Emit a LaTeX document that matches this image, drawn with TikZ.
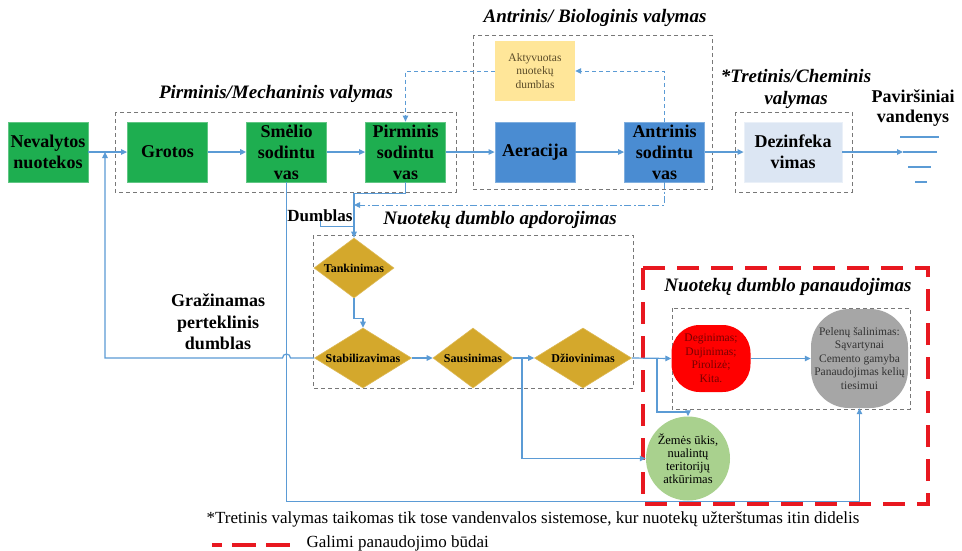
\documentclass[tikz,border=0pt]{standalone}
\usepackage{fontspec}
\setmainfont{Liberation Serif}
\usetikzlibrary{shapes.geometric,arrows.meta}

\definecolor{flow}{HTML}{5B9BD5}
\definecolor{pgreen}{RGB}{30,174,80}
\definecolor{pblue}{RGB}{74,140,210}
\definecolor{lblue}{RGB}{220,230,243}
\definecolor{ayellow}{HTML}{FFE699}
\definecolor{gold}{RGB}{212,168,44}
\definecolor{ashgray}{RGB}{166,166,166}
\definecolor{lgreen}{HTML}{A9D18E}
\definecolor{grpgray}{RGB}{120,120,120}
\definecolor{usered}{RGB}{232,24,32}
\definecolor{aktext}{RGB}{90,75,40}
\definecolor{degtext}{RGB}{120,0,0}

\begin{document}
\begin{tikzpicture}[x=1pt,y=-1pt,
  proc/.style={rectangle, minimum width=80pt, minimum height=60pt, inner sep=0pt,
    align=center, font=\fontsize{18}{21}\selectfont\bfseries},
  gproc/.style={proc, fill=pgreen, draw=pgreen!70!white, line width=0.8pt},
  bproc/.style={proc, fill=pblue, draw=pblue!70!white, line width=0.8pt},
  dia/.style={diamond, aspect=1.6, inner sep=0pt, fill=gold, draw=gold!80!white,
    line width=0.6pt, minimum width=97pt, minimum height=60pt,
    font=\fontsize{12}{14}\selectfont\bfseries},
  flowline/.style={draw=flow, line width=1.2pt},
  arr/.style={flowline, -{Triangle[length=6pt,width=5.5pt]}},
  dashloop/.style={dash pattern=on 4pt off 3pt},
  dashdotloop/.style={dash pattern=on 7pt off 2.5pt on 2pt off 2.5pt},
  grp/.style={draw=grpgray, dash pattern=on 4pt off 3pt, line width=0.9pt},
  reddash/.style={draw=usered, line width=3.6pt, dash pattern=on 22pt off 12pt},
  title/.style={font=\fontsize{19}{22}\selectfont\bfseries\itshape, align=center},
  lbl/.style={font=\fontsize{18}{21}\selectfont\bfseries, align=center},
  small/.style={font=\fontsize{11.5}{13.5}\selectfont, align=center},
  note/.style={font=\fontsize{17}{20}\selectfont}
]
\useasboundingbox (0,0) rectangle (962,550);
\fill[white] (0,0) rectangle (962,550);

% group frames
\draw[grp] (115,112) rectangle (456,192);
\draw[grp] (473,35) rectangle (712,189);
\draw[grp] (735,112) rectangle (852,192);
\draw[grp] (313,235) rectangle (633,388);
\draw[grp] (672,308) rectangle (910,409);
\draw[reddash] (643,268) rectangle (928,504);

% group titles
\node[title] (tprim) at (276,94) {Pirminis/Mechaninis valymas};
\node[title] (tsec) at (595,18) {Antrinis/ Biologinis valymas};
\node[title] (tter) at (796,89) {*Tretinis/Cheminis\\valymas};
\node[lbl, font=\fontsize{18}{20}\selectfont\bfseries] (tsurf) at (913,108) {Paviršiniai\\vandenys};
\node[title] (ttreat) at (500,220) {Nuotekų dumblo apdorojimas};
\node[title] (tuse) at (788,287) {Nuotekų dumblo panaudojimas};

% main treatment line
\node[gproc] (nev) at (48,152) {Nevalytos\\nuotekos};
\node[gproc] (gro) at (167.5,152) {Grotos};
\node[gproc] (sme) at (286.5,152) {Smėlio\\sodintu\\vas};
\node[gproc] (pir) at (405.5,152) {Pirminis\\sodintu\\vas};
\node[bproc] (aer) at (535,152) {Aeracija};
\node[bproc] (ant) at (664.5,152) {Antrinis\\sodintu\\vas};
\node[proc, fill=lblue, draw=lblue!60!white, line width=0.8pt, minimum width=98pt] (dez) at (793,152) {Dezinfeka\\vimas};
\node[rectangle, fill=ayellow, minimum width=80pt, minimum height=60pt, inner sep=0pt,
  small, text=aktext] (akt) at (535,71) {Aktyvuotas\\nuotekų\\dumblas};

% sludge treatment
\node[dia, minimum width=80pt] (tan) at (354,268) {Tankinimas};
\node[dia] (sta) at (363,358) {Stabilizavimas};
\node[dia, minimum width=80pt] (sau) at (473,358) {Sausinimas};
\node[dia] (dzi) at (583,358) {Džiovinimas};

% sludge use
\node[rectangle, rounded corners=28pt, fill=red, minimum width=79pt, minimum height=67pt,
  inner sep=0pt, small, text=degtext] (deg) at (711,358.5) {Deginimas;\\Dujinimas;\\Pirolizė;\\Kita.};
\node[rectangle, rounded corners=38pt, fill=ashgray, minimum width=97pt, minimum height=99pt,
  inner sep=0pt, small, text=black!80] (ash) at (859.5,358.5) {Pelenų šalinimas:\\Sąvartynai\\Cemento gamyba\\Panaudojimas kelių\\tiesimui};
\node[circle, fill=lgreen, minimum size=84pt, inner sep=0pt,
  font=\fontsize{12.5}{13}\selectfont, align=center] (agr) at (688,458.5) {Žemės ūkis,\\nualintų\\teritorijų\\atkūrimas};

% side labels
\node[lbl, font=\fontsize{17}{20}\selectfont\bfseries] (ldum) at (320,216) {Dumblas};
\node[lbl, font=\fontsize{18}{21.5}\selectfont\bfseries] (lret) at (218,322) {Gražinamas\\perteklinis\\dumblas};

% water flow
\draw[arr] (nev) -- (gro);
\draw[arr, line width=2.4pt] (gro) -- (sme);
\draw[arr] (sme) -- (pir);
\draw[arr] (pir) -- (aer);
\draw[arr] (aer) -- (ant);
\draw[arr] (ant) -- (dez);
\coordinate (wtip) at (903,152);
\coordinate (wend) at (937,152);
\draw[arr] (dez) -- (wtip);
\draw[flowline] (wtip) -- (wend);
\draw[flowline] (900,137) -- (939,137);
\draw[flowline] (908,167) -- (931,167);
\draw[flowline] (915,182) -- (927,182);

% activated sludge recirculation
\draw[arr, dashloop, line width=0.9pt] (ant.north) |- (akt.east);
\draw[arr, dashloop, line width=0.9pt] (akt.west) -| (pir.north);
\coordinate (dj) at (354,205);
\draw[arr, dashdotloop, line width=0.9pt] (ant.south) |- (dj);

% sludge line
\draw[arr] (pir.south) -- ++(0,11) -| (tan.north);
\draw[flowline, line width=0.8pt] (320,221) -- (320,226) -- (354,226);
\draw[arr] (tan.south) -- ++(0,20) -| (sta.north);
\draw[arr] (sta) -- (sau);
\draw[arr] (sau) -- (dzi);
\coordinate (b1) at (522,358);
\draw[arr] (b1) |- (agr.west);
\draw[arr] (dzi.east) -- (deg.west);
\coordinate (b2) at (657,358);
\draw[arr] (b2) -- ++(0,54) -| (agr.north);
\draw[arr] (deg) -- (ash);
\draw[arr] (sme.south) -- ++(0,319) -| (ash.south);

% returned excess sludge
\coordinate (ret) at (105,152);
\draw[arr] (sta.west) -- ([xshift=4pt]sme.south |- sta.west)
  arc[start angle=0, end angle=180, radius=4pt] -| (ret);

% notes
\node[note] (notetxt) at (533,519)
  {*Tretinis valymas taikomas tik tose vandenvalos sistemose, kur nuotekų užterštumas itin didelis};
\coordinate (lg1) at (212,545);
\coordinate (lg2) at (290,545);
\draw[reddash, dash pattern=on 24pt off 10pt, dash phase=14pt] (lg1) -- (lg2);
\node[anchor=west, note] (lgtext) at (303,543) {Galimi panaudojimo būdai};
\end{tikzpicture}
\end{document}
